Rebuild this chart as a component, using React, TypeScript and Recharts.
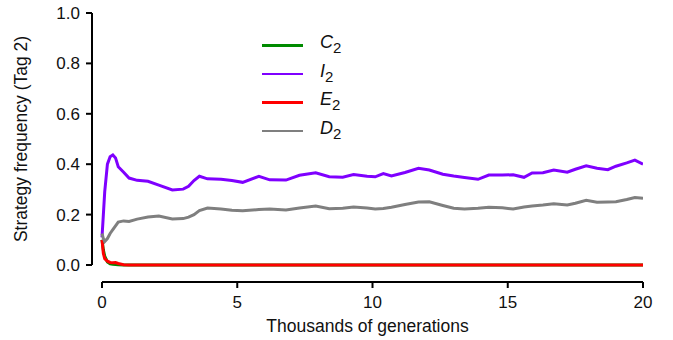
import React from 'react';
import { LineChart, Line, XAxis, YAxis, ReferenceLine } from 'recharts';

// thousands of generations
const genTimes = [
    0, 0.05, 0.1, 0.2, 0.3, 0.4, 0.5, 0.6, 0.8, 1.0,
    1.3, 1.7, 2.1, 2.6, 3.0, 3.2, 3.4, 3.6, 3.9, 4.4,
    4.8, 5.2, 5.8, 6.2, 6.8, 7.3, 7.9, 8.4, 8.9, 9.3,
    9.8, 10.1, 10.4, 10.7, 11.2, 11.7, 12.1, 12.6, 13.0, 13.4,
    13.9, 14.3, 14.8, 15.2, 15.6, 15.9, 16.3, 16.7, 17.2, 17.5,
    17.9, 18.3, 18.7, 19.0, 19.4, 19.7, 20.0,
];

const cFreq = [
    0.10, 0.06, 0.035, 0.012, 0.005, 0.003, 0.002, 0.001, 0, 0,
    0, 0, 0, 0, 0, 0, 0, 0, 0, 0,
    0, 0, 0, 0, 0, 0, 0, 0, 0, 0,
    0, 0, 0, 0, 0, 0, 0, 0, 0, 0,
    0, 0, 0, 0, 0, 0, 0, 0, 0, 0,
    0, 0, 0, 0, 0, 0, 0,
];

const iFreq = [
    0.11, 0.2, 0.29, 0.40, 0.43, 0.437, 0.425, 0.39, 0.368, 0.345,
    0.336, 0.332, 0.317, 0.298, 0.301, 0.312, 0.335, 0.352, 0.342, 0.34,
    0.335, 0.328, 0.352, 0.338, 0.337, 0.356, 0.366, 0.35, 0.348, 0.359,
    0.352, 0.35, 0.363, 0.353, 0.367, 0.384, 0.377, 0.36, 0.353, 0.347,
    0.34, 0.357, 0.357, 0.358, 0.348, 0.365, 0.366, 0.377, 0.368, 0.38,
    0.394, 0.384, 0.378, 0.392, 0.405, 0.416, 0.40,
];

const eFreq = [
    0.10, 0.046, 0.025, 0.015, 0.01, 0.009, 0.01, 0.006, 0.001, 0,
    0, 0, 0, 0, 0, 0, 0, 0, 0, 0,
    0, 0, 0, 0, 0, 0, 0, 0, 0, 0,
    0, 0, 0, 0, 0, 0, 0, 0, 0, 0,
    0, 0, 0, 0, 0, 0, 0, 0, 0, 0,
    0, 0, 0, 0, 0, 0, 0,
];

const dFreq = [
    0.125, 0.105, 0.093, 0.105, 0.125, 0.14, 0.155, 0.17, 0.175, 0.173,
    0.182, 0.19, 0.194, 0.183, 0.184, 0.19, 0.2, 0.216, 0.226, 0.222,
    0.217, 0.215, 0.22, 0.222, 0.218, 0.226, 0.234, 0.223, 0.225, 0.23,
    0.226, 0.222, 0.224, 0.229, 0.24, 0.25, 0.251, 0.236, 0.225, 0.222,
    0.225, 0.229, 0.227, 0.222, 0.23, 0.234, 0.238, 0.243, 0.238, 0.245,
    0.257, 0.249, 0.25, 0.251, 0.26, 0.268, 0.265,
];

const xTicks = [0, 5, 10, 15, 20];
const yTicks = [0, 0.2, 0.4, 0.6, 0.8, 1.0];

const SERIES = [
    { key: 'C', letter: 'C', color: '#008b00', values: cFreq },
    { key: 'I', letter: 'I', color: '#7f00ff', values: iFreq },
    { key: 'E', letter: 'E', color: '#ff0000', values: eFreq },
    { key: 'D', letter: 'D', color: '#7f7f7f', values: dFreq },
];

const FONT = '"Liberation Sans", Arial, Helvetica, sans-serif';
const X_MIN = -0.37;
const Y_MIN = -0.0675;

const rows = genTimes.map((t, i) => {
    const row: Record<string, number> = { t };
    SERIES.forEach(s => { row[s.key] = s.values[i]; });
    return row;
});

function Legend() {
    return (
        <div style={{ position: 'absolute', left: 262, top: 31, fontFamily: FONT, color: '#111' }}>
            {SERIES.map(s => (
                <div key={s.key} style={{ display: 'flex', alignItems: 'center', height: 28.5 }}>
                    <div style={{ width: 41, height: 2.5, background: s.color }} />
                    <div style={{ marginLeft: 17, fontSize: 18, lineHeight: '18px' }}>
                        <i>{s.letter}</i>
                        <sub style={{ fontSize: 15, verticalAlign: '-5px' }}>2</sub>
                    </div>
                </div>
            ))}
        </div>
    );
}

export default function App() {
    return (
        <div style={{ position: 'absolute', left: 0, top: 0, width: 673, height: 340, background: '#fff' }}>
            <LineChart
                width={673}
                height={340}
                data={rows}
                margin={{ top: 13, right: 30, left: 32, bottom: 0 }}
            >
                <XAxis
                    dataKey="t"
                    type="number"
                    domain={[X_MIN, 20]}
                    ticks={xTicks}
                    allowDataOverflow
                    axisLine={false}
                    tickLine={{ stroke: '#000', strokeWidth: 2 }}
                    tickSize={6}
                    tickMargin={8}
                    height={58}
                    tick={{ fontSize: 17, fill: '#111', fontFamily: FONT }}
                    label={{ value: 'Thousands of generations', position: 'insideBottom', offset: 8, fontSize: 17.5, fill: '#111', fontFamily: FONT }}
                />
                <YAxis
                    type="number"
                    domain={[Y_MIN, 1]}
                    ticks={yTicks}
                    allowDataOverflow
                    axisLine={false}
                    tickLine={{ stroke: '#000', strokeWidth: 2 }}
                    tickSize={6}
                    tickMargin={6}
                    width={60}
                    tickFormatter={(v: number) => v.toFixed(1)}
                    tick={{ fontSize: 17, fill: '#111', fontFamily: FONT }}
                    label={() => (
                        <text
                            x={27}
                            y={139}
                            transform="rotate(-90, 27, 139)"
                            textAnchor="middle"
                            fontSize={17.5}
                            fill="#111"
                            fontFamily={FONT}
                        >
                            Strategy frequency (Tag 2)
                        </text>
                    )}
                />
                <ReferenceLine
                    segment={[{ x: X_MIN, y: 0 }, { x: X_MIN, y: 1 }]}
                    stroke="#000"
                    strokeWidth={2}
                    ifOverflow="visible"
                />
                <ReferenceLine
                    segment={[{ x: 0, y: Y_MIN }, { x: 20, y: Y_MIN }]}
                    stroke="#000"
                    strokeWidth={2}
                    ifOverflow="visible"
                />
                {SERIES.map(s => (
                    <Line
                        key={s.key}
                        dataKey={s.key}
                        stroke={s.color}
                        strokeWidth={3}
                        dot={false}
                        type="linear"
                        isAnimationActive={false}
                    />
                ))}
            </LineChart>
            <Legend />
        </div>
    );
}
